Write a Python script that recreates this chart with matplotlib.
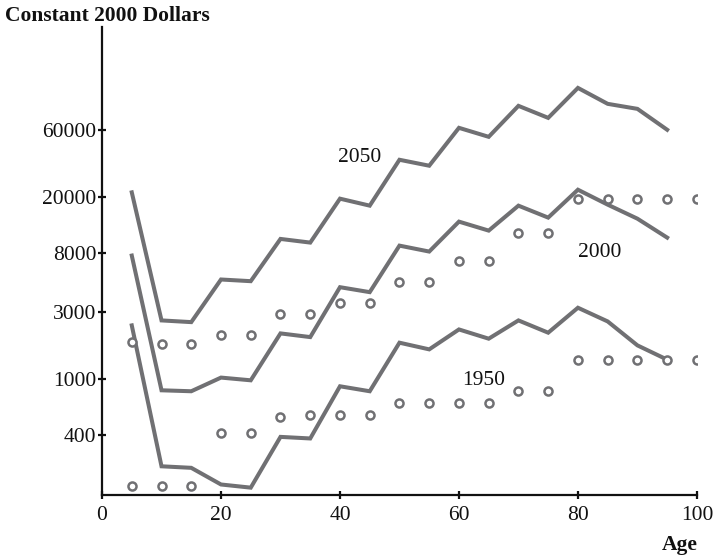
import matplotlib
matplotlib.use("Agg")
import matplotlib.pyplot as plt

# Age groups and per-capita amounts (constant 2000 dollars)
ages_line = [5, 10, 15, 20, 25, 30, 35, 40, 45, 50, 55, 60, 65, 70, 75, 80, 85, 90, 95]
ages_dots = [5, 10, 15, 20, 25, 30, 35, 40, 45, 50, 55, 60, 65, 70, 75, 80, 85, 90, 95, 100]

line_2050 = [21570, 2634, 2561, 5157, 5017, 10040, 9455, 19450, 17340, 36840, 33410,
             62240, 53700, 89300, 73300, 119900, 92300, 85000, 60300]
line_2000 = [7640, 836, 823, 1030, 985, 2128, 2003, 4545, 4190, 8995, 8160,
             13340, 11510, 17340, 14250, 22530, 17630, 14000, 10260]
line_1950 = [2427, 240, 234, 178, 169, 389, 379, 893, 823, 1827, 1637,
             2271, 1951, 2634, 2153, 3243, 2590, 1748, 1383]

dots_upper = [1845, 1798, 1798, 2060, 2060, 2905, 2920, 3497, 3497, 4933, 4933,
              7042, 7042, 11140, 11140, 19450, 19450, 19450, 19450, 19450]
dots_lower = [174, 174, 174, 415, 415, 537, 555, 555, 555, 679, 679,
              679, 679, 827, 827, 1367, 1367, 1367, 1367, 1367]

y_ticks = [400, 1000, 3000, 8000, 20000, 60000]
x_ticks = [0, 20, 40, 60, 80, 100]

plt.rcParams['font.family'] = ['Liberation Serif', 'DejaVu Serif']

grey = '#707073'
fig = plt.figure(figsize=(7.15, 5.56), dpi=100)
ax = fig.add_axes([0.1427, 0.1106, 0.832, 0.8405])

for vals in (line_2050, line_2000, line_1950):
    ax.plot(ages_line, vals, color=grey, lw=2.9, solid_joinstyle='miter')
for vals in (dots_upper, dots_lower):
    ax.plot(ages_dots, vals, ls='none', marker='o', ms=5.8, mfc='white',
            mec=grey, mew=1.8)

ax.set_yscale('log')
ax.set_xlim(0, 100)
ax.set_ylim(151, 325000)
ax.set_yticks(y_ticks)
ax.set_yticklabels([str(v) for v in y_ticks])
ax.minorticks_off()
ax.set_xticks(x_ticks)

ax.spines['top'].set_visible(False)
ax.spines['right'].set_visible(False)
for s in ('left', 'bottom'):
    ax.spines[s].set_linewidth(1.6)
    ax.spines[s].set_color('#111111')
ax.tick_params(direction='inout', length=6, width=1.6, colors='#111111', labelsize=15.5)
ax.tick_params(axis='y', pad=1)
ax.tick_params(axis='x', pad=5)

ax.text(43.3, 38400, '2050', fontsize=15.5, ha='center', va='center', color='#111111')
ax.text(83.7, 8070, '2000', fontsize=15.5, ha='center', va='center', color='#111111')
ax.text(64.2, 986, '1950', fontsize=15.5, ha='center', va='center', color='#111111')

fig.text(5 / 715, 1 - 16 / 556, 'Constant 2000 Dollars', fontsize=15.5,
         fontweight='bold', ha='left', va='center', color='#111111')
fig.text(698 / 715, 1 - 545 / 556, 'Age', fontsize=15.5, fontweight='bold',
         ha='right', va='center', color='#111111')

fig.savefig('out.png', dpi=100)
